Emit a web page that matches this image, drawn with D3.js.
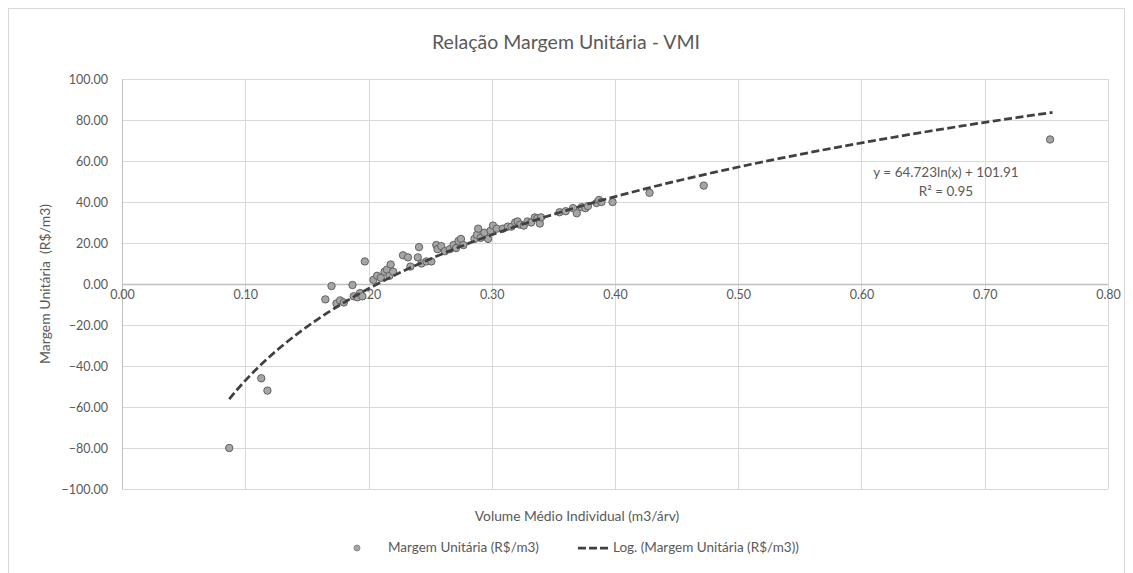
<!DOCTYPE html>
<html><head><meta charset="utf-8">
<script src="https://cdn.jsdelivr.net/npm/d3@7"></script>
<style>
html,body{margin:0;padding:0;background:#fff;}
text{font-family:Lato,"Open Sans",sans-serif;fill:#595959;}
</style></head>
<body><svg id="c" width="1133" height="573"></svg>
<script>
const title = "Relação Margem Unitária - VMI";
const xTitle = "Volume Médio Individual (m3/árv)";
const yTitle = "Margem Unitária  (R$/m3)";
const seriesName = "Margem Unitária (R$/m3)";
const trendName = "Log. (Margem Unitária (R$/m3))";
const xTicks = [0, 0.1, 0.2, 0.3, 0.4, 0.5, 0.6, 0.7, 0.8];
const yTicks = [-100, -80, -60, -40, -20, 0, 20, 40, 60, 80, 100];
const vmi = [0.087,0.113,0.118,0.165,0.170,0.174,0.177,0.180,0.187,0.188,0.191,0.193,0.195,0.197,0.204,0.207,0.210,0.213,0.215,0.217,0.218,0.220,0.228,0.232,0.234,0.240,0.241,0.243,0.247,0.251,0.255,0.256,0.259,0.262,0.266,0.269,0.271,0.273,0.275,0.277,0.286,0.288,0.289,0.291,0.294,0.297,0.299,0.301,0.304,0.309,0.313,0.316,0.319,0.321,0.323,0.326,0.329,0.332,0.335,0.337,0.339,0.340,0.355,0.360,0.366,0.369,0.373,0.376,0.378,0.385,0.387,0.389,0.398,0.428,0.472,0.753];
const margem = [-80,-46,-52,-7.5,-1,-9.5,-8,-9,-0.5,-6,-6.5,-4.5,-6,11,2,4,3,6,7,4,9.5,6,14,13,8.5,13,18,10,11,11,19,17,18.5,16,17,19,17.5,21,22,19,22,24,27,22.5,25,22,26,28.5,27,27,28,28,30,30.5,29,28.5,30.5,30,32.5,32,29.5,32.5,35,35.5,37,34.5,37.5,37,38,39.5,41,40,40,44.5,48,70.5];
const trendCoef = [64.723, 101.91];
const trendRange = [0.087, 0.755];
const eqLabel = "y = 64.723ln(x) + 101.91";
const r2Label = "R² = 0.95";

const svg = d3.select("#c");
const L=122, R=1108, T=79, B=489;
const x = d3.scaleLinear().domain([0,0.8]).range([L,R]);
const y = d3.scaleLinear().domain([-100,100]).range([B,T]);

svg.append("rect").attr("x",8.5).attr("y",8.5).attr("width",1116).attr("height",580)
  .attr("fill","#fff").attr("stroke","#d9d9d9");

svg.append("text").attr("x",566).attr("y",49).attr("text-anchor","middle")
  .style("font-size","19.5px").text(title);

// grid
const g = svg.append("g");
g.selectAll(".hg").data(yTicks).join("line")
  .attr("x1",L).attr("x2",R).attr("y1",d=>Math.round(y(d))+0.5).attr("y2",d=>Math.round(y(d))+0.5)
  .attr("stroke","#d9d9d9").attr("stroke-width",1);
g.selectAll(".vg").data(xTicks.slice(1)).join("line")
  .attr("y1",T).attr("y2",B).attr("x1",d=>Math.round(x(d))+0.5).attr("x2",d=>Math.round(x(d))+0.5)
  .attr("stroke","#d9d9d9").attr("stroke-width",1);
// axes lines
g.append("line").attr("x1",L+0.5).attr("x2",L+0.5).attr("y1",T).attr("y2",B).attr("stroke","#bfbfbf");
g.append("line").attr("x1",L).attr("x2",R).attr("y1",Math.round(y(0))+0.5).attr("y2",Math.round(y(0))+0.5)
  .attr("stroke","#bfbfbf").attr("stroke-width",1.5);

// y axis labels
const ya = d3.axisLeft(y).tickValues(yTicks).tickFormat(d3.format(".2f")).tickSize(0).tickPadding(14);
svg.append("g").attr("transform",`translate(${L},0)`).call(ya)
  .call(s=>s.select(".domain").remove())
  .call(s=>s.selectAll("text").style("font-size","12.5px").attr("fill","#595959"));
// x axis labels on zero line
const xa = d3.axisBottom(x).tickValues(xTicks).tickFormat(d3.format(".2f")).tickSize(0).tickPadding(6);
svg.append("g").attr("transform",`translate(0,${y(0)})`).call(xa)
  .call(s=>s.select(".domain").remove())
  .call(s=>s.selectAll("text").style("font-size","12.5px").attr("fill","#595959"));

// axis titles
svg.append("text").attr("transform","translate(50,284) rotate(-90)").attr("text-anchor","middle")
  .style("font-size","14px").style("white-space","pre").text(yTitle);
svg.append("text").attr("x",577).attr("y",521).attr("text-anchor","middle")
  .style("font-size","13.8px").text(xTitle);

// points
const pts = vmi.map((v,i)=>({x:v,y:margem[i]}));
svg.append("g").selectAll("circle").data(pts).join("circle")
  .attr("cx",d=>x(d.x)).attr("cy",d=>y(d.y)).attr("r",3.7)
  .attr("fill","#a5a5a5").attr("stroke","#626262").attr("stroke-width",1);

// trendline
const xs = d3.range(0,101).map(i=>trendRange[0]+(trendRange[1]-trendRange[0])*i/100);
const line = d3.line().x(d=>x(d)).y(d=>y(trendCoef[0]*Math.log(d)+trendCoef[1]));
svg.append("path").datum(xs).attr("d",line).attr("fill","none")
  .attr("stroke","#404040").attr("stroke-width",2.75).attr("stroke-dasharray","8,3.5");

// equation label
svg.append("text").attr("x",946).attr("y",177).attr("text-anchor","middle").style("font-size","13.5px").text(eqLabel);
svg.append("text").attr("x",946).attr("y",196).attr("text-anchor","middle").style("font-size","13.5px").text(r2Label);

// legend
svg.append("circle").attr("cx",357).attr("cy",548).attr("r",3).attr("fill","#a5a5a5").attr("stroke","#8a8a8a");
svg.append("text").attr("x",388).attr("y",552).style("font-size","13.5px").text(seriesName);
svg.append("line").attr("x1",578).attr("x2",610).attr("y1",548).attr("y2",548)
  .attr("stroke","#404040").attr("stroke-width",2.75).attr("stroke-dasharray","8,3");
svg.append("text").attr("x",613).attr("y",552).style("font-size","13.5px").text(trendName);
</script></body></html>
